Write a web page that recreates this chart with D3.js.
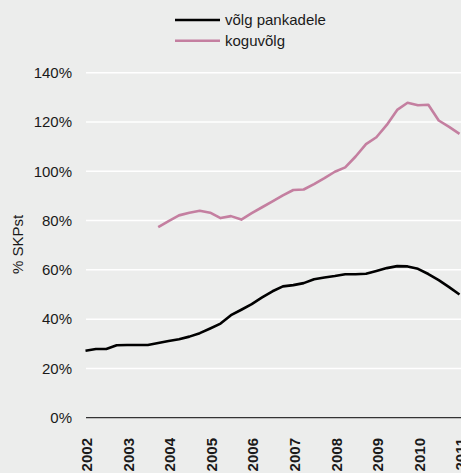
<!DOCTYPE html>
<html>
<head>
<meta charset="utf-8">
<script src="https://cdn.jsdelivr.net/npm/d3@7"></script>
<style>
  body { margin: 0; background: #ecedec; }
  svg { display: block; }
  text { font-family: "Liberation Sans", Arial, Helvetica, sans-serif; fill: #1a1a1a; }
</style>
</head>
<body>
<div id="chart"></div>
<script>
// quarterly values, 2002 Q1 .. 2011 Q1
const years = ['2002', '2003', '2004', '2005', '2006', '2007', '2008', '2009', '2010', '2011'];
const bankDebt = [
  27.2, 27.9, 27.9, 29.4, 29.5, 29.5, 29.5, 30.3, 31.1, 31.8,
  32.9, 34.3, 36.2, 38.2, 41.6, 43.8, 46.1, 48.8, 51.3, 53.3,
  53.8, 54.6, 56.2, 56.9, 57.5, 58.2, 58.2, 58.4, 59.5, 60.7,
  61.5, 61.4, 60.4, 58.3, 55.8, 53.0, 50.0
];
const totalDebt = [
  null, null, null, null, null, null, null, 77.3, 79.8, 82.1,
  83.2, 84.0, 83.2, 81.0, 81.8, 80.4, 83.0, 85.4, 87.8, 90.2,
  92.4, 92.6, 94.8, 97.2, 99.8, 101.6, 106.0, 111.0, 113.8, 118.8,
  124.9, 127.8, 126.8, 127.0, 120.6, 118.0, 115.2
];
const yTicks = [0, 20, 40, 60, 80, 100, 120, 140];
const seriesNames = ['võlg pankadele', 'koguvõlg'];
const seriesColors = ['#000000', '#c47fa0'];

const width = 461, height = 473;
const svg = d3.select('#chart').append('svg')
  .attr('width', width)
  .attr('height', height);

svg.append('rect').attr('width', width).attr('height', height).attr('fill', '#ecedec');

const x = d3.scaleLinear().domain([0, bankDebt.length - 1]).range([85.5, 459.5]);
const y = d3.scaleLinear().domain([0, 140]).range([417.7, 72.7]);
const plotLeft = 86, plotRight = width;

// gridlines
svg.append('g')
  .selectAll('line')
  .data(yTicks.filter(d => d > 0))
  .join('line')
  .attr('x1', plotLeft).attr('x2', plotRight)
  .attr('y1', d => y(d)).attr('y2', d => y(d))
  .attr('stroke', '#ffffff')
  .attr('stroke-width', 1.5);

// y axis labels
const yAxis = d3.axisLeft(y).tickValues(yTicks).tickFormat(d => d + '%').tickSize(0).tickPadding(0);
const yg = svg.append('g').attr('transform', 'translate(72,0)').call(yAxis);
yg.select('.domain').remove();
yg.selectAll('text').attr('font-size', 15).attr('font-family', '"Liberation Sans", Arial, sans-serif').attr('fill', '#1a1a1a');

// zero line
svg.append('line')
  .attr('x1', plotLeft).attr('x2', plotRight)
  .attr('y1', y(0)).attr('y2', y(0))
  .attr('stroke', '#333')
  .attr('stroke-width', 1.2);

// y title
svg.append('text')
  .attr('transform', `translate(17.5,${244.5}) rotate(-90)`)
  .attr('text-anchor', 'middle')
  .attr('dy', '0.35em')
  .attr('font-size', 15)
  .text('% SKPst');

// x labels (every 4th quarter)
svg.append('g')
  .selectAll('text')
  .data(years)
  .join('text')
  .attr('transform', (d, i) => `translate(${x(i * 4) + 1.5},438) rotate(-90)`)
  .attr('text-anchor', 'end')
  .attr('dy', '0.35em')
  .attr('font-size', 15)
  .attr('font-weight', 'bold')
  .text(d => d);

// lines
const line = d3.line()
  .defined(d => d != null)
  .x((d, i) => x(i))
  .y(d => y(d));

[bankDebt, totalDebt].forEach((series, k) => {
  svg.append('path')
    .datum(series)
    .attr('fill', 'none')
    .attr('stroke', seriesColors[k])
    .attr('stroke-width', 2.6)
    .attr('stroke-linejoin', 'round')
    .attr('d', line);
});

// legend
const legend = svg.append('g');
seriesNames.forEach((name, k) => {
  const ly = 20 + k * 20.7;
  legend.append('line')
    .attr('x1', 175).attr('x2', 220)
    .attr('y1', ly).attr('y2', ly)
    .attr('stroke', seriesColors[k])
    .attr('stroke-width', 2.6);
  legend.append('text')
    .attr('x', 225).attr('y', ly)
    .attr('dy', '0.35em')
    .attr('font-size', 15)
    .text(name);
});
</script>
</body>
</html>
